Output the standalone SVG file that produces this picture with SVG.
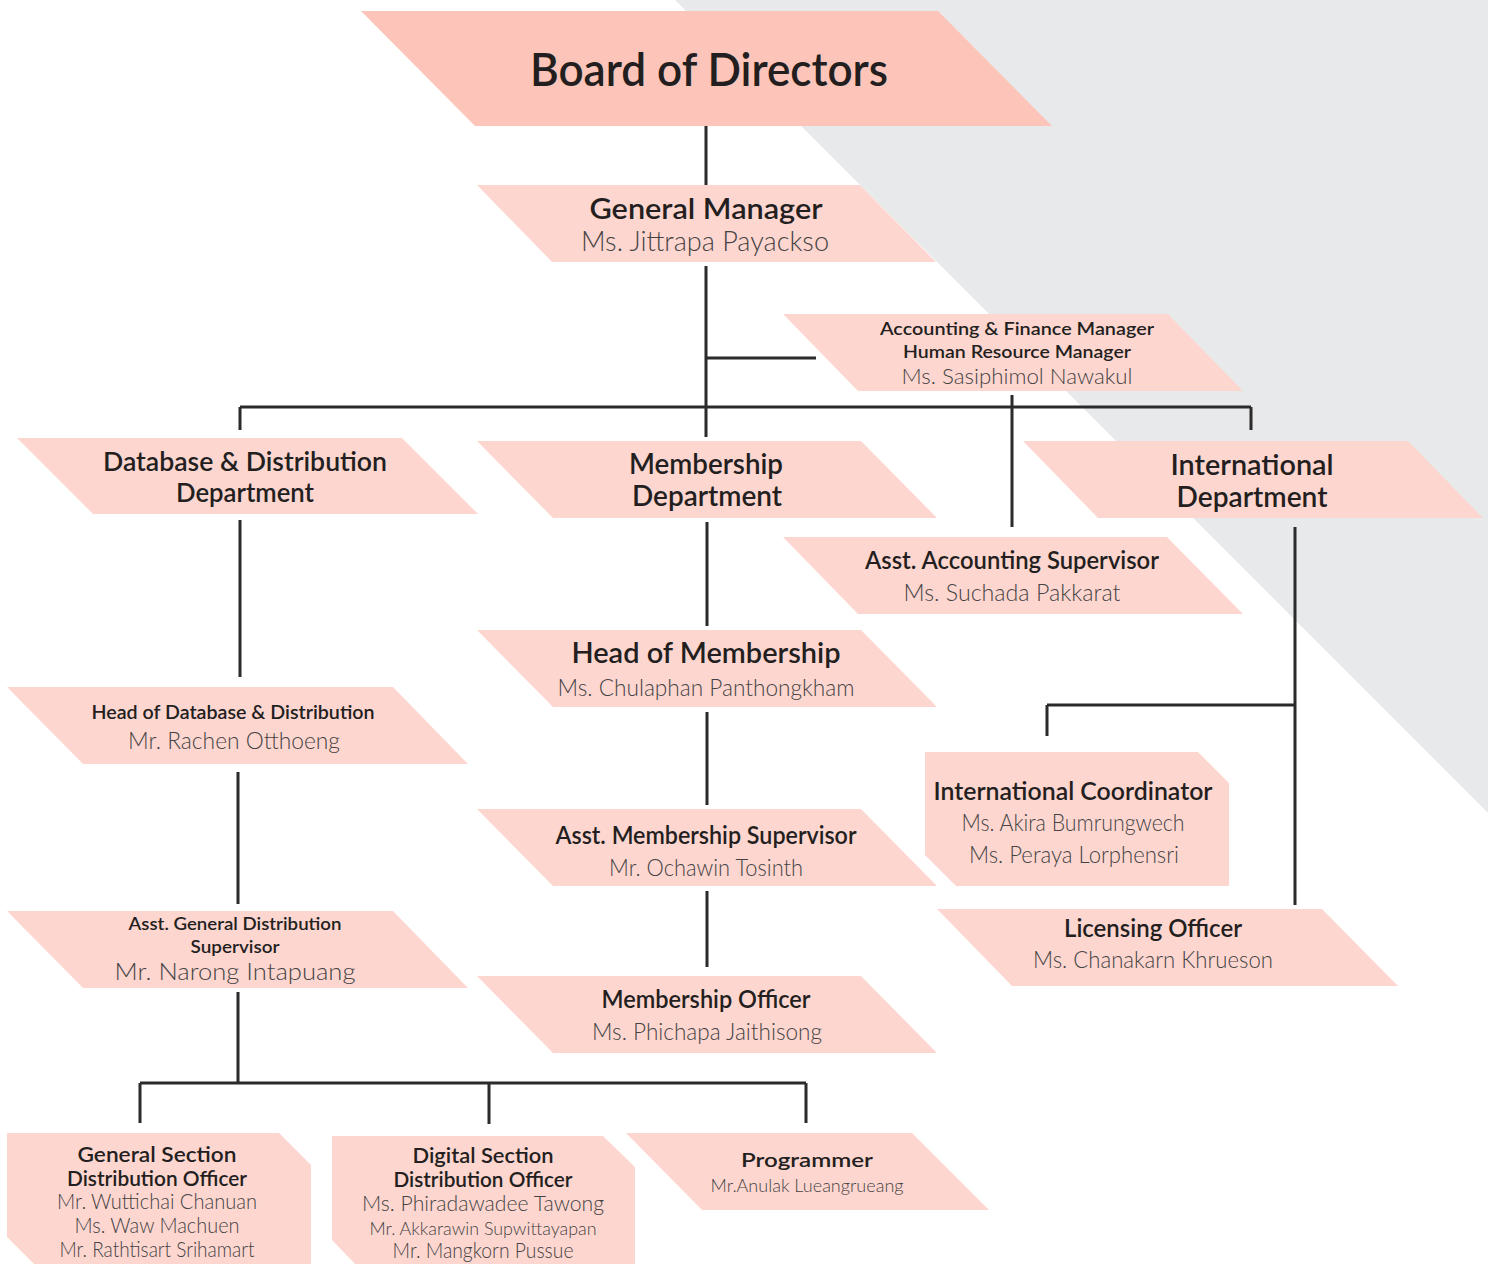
<svg xmlns="http://www.w3.org/2000/svg" width="1488" height="1264" viewBox="0 0 1488 1264">
<style>
.bg{fill:#e8e9eb}
.n{fill:#fed6d0}
.b{fill:#fdc4b9}
text{font-family:Lato,"DejaVu Sans","Liberation Sans",sans-serif;text-anchor:middle}
.t{fill:#231f20;font-weight:600}
.nm{fill:#444;font-weight:300}
.c{stroke:#2b2b2b;stroke-width:3;fill:none}
</style>
<rect width="1488" height="1264" fill="#ffffff"/>
<polygon class="bg" points="675,0 1488,0 1488,813"/>
<g id="connectors">
<path class="c" d="M706 126V185M706 266V437M706 358H816M240 407H1251M240 407V430M1251 407V430M1012 395V527M240 520V677M707 522V626M707 712V805M707 891V967M1295 527V905M1047 705H1295M1047 705V736M238 772V904M238 992V1083M140 1083H806M140 1083V1123M489 1083V1124M806 1083V1123"/>
</g>
<g id="board">
<polygon class="b" points="361,11 938,11 1052,126 475,126"/>
<text class="t" x="709" y="86" font-size="47" textLength="358" lengthAdjust="spacingAndGlyphs">Board of Directors</text>
</g>
<g id="general-manager">
<polygon class="n" points="477,185 860,185 936,262 552,262"/>
<text class="t" x="706" y="219" font-size="28" textLength="233" lengthAdjust="spacingAndGlyphs">General Manager</text>
<text class="nm" x="705" y="251" font-size="28" textLength="248" lengthAdjust="spacingAndGlyphs">Ms. Jittrapa Payackso</text>
</g>
<g id="accounting-manager">
<polygon class="n" points="783,314 1168,314 1243,391 858,391"/>
<text class="t" x="1017" y="335" font-size="17" textLength="274" lengthAdjust="spacingAndGlyphs">Accounting &amp; Finance Manager</text>
<text class="t" x="1017" y="358" font-size="17" textLength="228" lengthAdjust="spacingAndGlyphs">Human Resource Manager</text>
<text class="nm" x="1017" y="384" font-size="22" textLength="231" lengthAdjust="spacingAndGlyphs">Ms. Sasiphimol Nawakul</text>
</g>
<g id="database-department">
<polygon class="n" points="17,438 402,438 478,514 93,514"/>
<text class="t" x="245" y="471" font-size="27" textLength="284" lengthAdjust="spacingAndGlyphs">Database &amp; Distribution</text>
<text class="t" x="245" y="502" font-size="27" textLength="138" lengthAdjust="spacingAndGlyphs">Department</text>
</g>
<g id="membership-department">
<polygon class="n" points="477,441 861,441 937,518 553,518"/>
<text class="t" x="706" y="474" font-size="29" textLength="154" lengthAdjust="spacingAndGlyphs">Membership</text>
<text class="t" x="707" y="506" font-size="29" textLength="150" lengthAdjust="spacingAndGlyphs">Department</text>
</g>
<g id="international-department">
<polygon class="n" points="1023,441 1408,441 1483,518 1098,518"/>
<text class="t" x="1252" y="475" font-size="29" textLength="163" lengthAdjust="spacingAndGlyphs">International</text>
<text class="t" x="1252" y="507" font-size="29" textLength="151" lengthAdjust="spacingAndGlyphs">Department</text>
</g>
<g id="asst-accounting">
<polygon class="n" points="783,537 1167,537 1243,614 858,614"/>
<text class="t" x="1012" y="569" font-size="24" textLength="294" lengthAdjust="spacingAndGlyphs">Asst. Accounting Supervisor</text>
<text class="nm" x="1012" y="601" font-size="24" textLength="217" lengthAdjust="spacingAndGlyphs">Ms. Suchada Pakkarat</text>
</g>
<g id="head-membership">
<polygon class="n" points="477,630 861,630 937,707 553,707"/>
<text class="t" x="706" y="663" font-size="29" textLength="269" lengthAdjust="spacingAndGlyphs">Head of Membership</text>
<text class="nm" x="706" y="696" font-size="24" textLength="297" lengthAdjust="spacingAndGlyphs">Ms. Chulaphan Panthongkham</text>
</g>
<g id="head-database">
<polygon class="n" points="7,687 393,687 468,764 83,764"/>
<text class="t" x="233" y="719" font-size="19" textLength="283" lengthAdjust="spacingAndGlyphs">Head of Database &amp; Distribution</text>
<text class="nm" x="234" y="749" font-size="24" textLength="212" lengthAdjust="spacingAndGlyphs">Mr. Rachen Otthoeng</text>
</g>
<g id="international-coordinator">
<polygon class="n" points="925,752 1198,752 1229,783 1229,886 956,886 925,855"/>
<text class="t" x="1073" y="800" font-size="24" textLength="279" lengthAdjust="spacingAndGlyphs">International Coordinator</text>
<text class="nm" x="1073" y="831" font-size="24" textLength="223" lengthAdjust="spacingAndGlyphs">Ms. Akira Bumrungwech</text>
<text class="nm" x="1074" y="863" font-size="24" textLength="210" lengthAdjust="spacingAndGlyphs">Ms. Peraya Lorphensri</text>
</g>
<g id="asst-membership">
<polygon class="n" points="477,809 861,809 937,886 553,886"/>
<text class="t" x="706" y="844" font-size="24" textLength="301" lengthAdjust="spacingAndGlyphs">Asst. Membership Supervisor</text>
<text class="nm" x="706" y="876" font-size="24" textLength="194" lengthAdjust="spacingAndGlyphs">Mr. Ochawin Tosinth</text>
</g>
<g id="licensing-officer">
<polygon class="n" points="937,909 1322,909 1398,986 1012,986"/>
<text class="t" x="1153" y="937" font-size="24" textLength="178" lengthAdjust="spacingAndGlyphs">Licensing Officer</text>
<text class="nm" x="1153" y="968" font-size="24" textLength="240" lengthAdjust="spacingAndGlyphs">Ms. Chanakarn Khrueson</text>
</g>
<g id="asst-general-distribution">
<polygon class="n" points="7,911 393,911 468,988 83,988"/>
<text class="t" x="235" y="930" font-size="18" textLength="213" lengthAdjust="spacingAndGlyphs">Asst. General Distribution</text>
<text class="t" x="235" y="953" font-size="18" textLength="89" lengthAdjust="spacingAndGlyphs">Supervisor</text>
<text class="nm" x="235" y="980" font-size="24" textLength="241" lengthAdjust="spacingAndGlyphs">Mr. Narong Intapuang</text>
</g>
<g id="membership-officer">
<polygon class="n" points="477,976 861,976 937,1053 553,1053"/>
<text class="t" x="706" y="1008" font-size="24" textLength="209" lengthAdjust="spacingAndGlyphs">Membership Officer</text>
<text class="nm" x="707" y="1040" font-size="24" textLength="230" lengthAdjust="spacingAndGlyphs">Ms. Phichapa Jaithisong</text>
</g>
<g id="general-section">
<polygon class="n" points="7,1133 279,1133 311,1165 311,1290 60,1290 7,1237"/>
<text class="t" x="157" y="1162" font-size="21" textLength="159" lengthAdjust="spacingAndGlyphs">General Section</text>
<text class="t" x="157" y="1186" font-size="21" textLength="180" lengthAdjust="spacingAndGlyphs">Distribution Officer</text>
<text class="nm" x="157" y="1209" font-size="21" textLength="200" lengthAdjust="spacingAndGlyphs">Mr. Wuttichai Chanuan</text>
<text class="nm" x="157" y="1233" font-size="21" textLength="165" lengthAdjust="spacingAndGlyphs">Ms. Waw Machuen</text>
<text class="nm" x="157" y="1257" font-size="21" textLength="195" lengthAdjust="spacingAndGlyphs">Mr. Rathtisart Srihamart</text>
</g>
<g id="digital-section">
<polygon class="n" points="332,1136 603,1136 635,1167 635,1290 380,1290 332,1240"/>
<text class="t" x="483" y="1163" font-size="21" textLength="141" lengthAdjust="spacingAndGlyphs">Digital Section</text>
<text class="t" x="483" y="1187" font-size="21" textLength="179" lengthAdjust="spacingAndGlyphs">Distribution Officer</text>
<text class="nm" x="483" y="1211" font-size="21" textLength="242" lengthAdjust="spacingAndGlyphs">Ms. Phiradawadee Tawong</text>
<text class="nm" x="483" y="1235" font-size="18" textLength="227" lengthAdjust="spacingAndGlyphs">Mr. Akkarawin Supwittayapan</text>
<text class="nm" x="483" y="1258" font-size="21" textLength="181" lengthAdjust="spacingAndGlyphs">Mr. Mangkorn Pussue</text>
</g>
<g id="programmer">
<polygon class="n" points="626,1133 912,1133 989,1210 702,1210"/>
<text class="t" x="807" y="1167" font-size="20" textLength="132" lengthAdjust="spacingAndGlyphs">Programmer</text>
<text class="nm" x="807" y="1192" font-size="17" textLength="193" lengthAdjust="spacingAndGlyphs">Mr.Anulak Lueangrueang</text>
</g>
</svg>
